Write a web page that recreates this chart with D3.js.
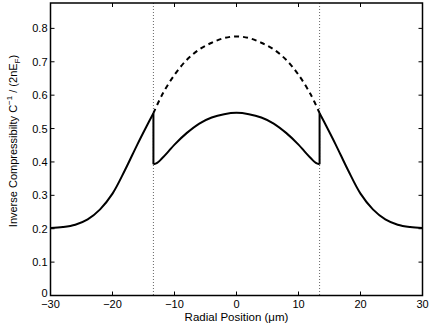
<!DOCTYPE html>
<html><head><meta charset="utf-8">
<script src="https://cdn.jsdelivr.net/npm/d3@7"></script>
<style>body{margin:0;background:#fff}svg{display:block}text{font-family:"Liberation Sans",Arial,sans-serif}</style>
</head><body><svg id="c" width="432" height="327"></svg>
<script>
// Outer solid branch (left, right)
const outerLeftX = [-30, -28, -26, -24, -22, -20, -18, -16, -14.5, -13.4];
const outerLeftY = [0.202, 0.205, 0.212, 0.228, 0.258, 0.305, 0.375, 0.452, 0.507, 0.546];
const outerRightX = [13.4, 14.5, 16, 18, 20, 22, 24, 26, 28, 30];
const outerRightY = [0.546, 0.507, 0.452, 0.375, 0.305, 0.258, 0.228, 0.212, 0.205, 0.202];
// Inner solid branch
const innerX = [-13.4, -13.4, -12.8, -12, -11, -10, -8, -6, -4, -2, 0, 2, 4, 6, 8, 10, 11, 12, 12.8, 13.4, 13.4];
const innerY = [0.546, 0.393, 0.397, 0.411, 0.431, 0.452, 0.487, 0.515, 0.533, 0.543, 0.547, 0.543, 0.533, 0.515, 0.487, 0.452, 0.431, 0.411, 0.397, 0.393, 0.546];
// Dashed branch
const dashX = [-13.4, -12, -10, -8, -6, -4, -2, 0, 2, 4, 6, 8, 10, 12, 13.4];
const dashY = [0.546, 0.601, 0.661, 0.706, 0.737, 0.757, 0.771, 0.776, 0.771, 0.757, 0.737, 0.706, 0.661, 0.601, 0.546];
const boundaries = [-13.4, 13.4];
const xTicks = [-30, -20, -10, 0, 10, 20, 30];
const yTicks = [0, 0.1, 0.2, 0.3, 0.4, 0.5, 0.6, 0.7, 0.8];

const svg = d3.select("#c");
const L = 50.5, R = 422.5, T = 3, B = 295.5;
const x = d3.scaleLinear().domain([-30, 30]).range([L, R]);
const y = d3.scaleLinear().domain([0, 0.876]).range([B, T]);

svg.append("defs").append("clipPath").attr("id","cp").append("rect")
  .attr("x", L).attr("y", T).attr("width", R-L).attr("height", B-T);

const g = svg.append("g").attr("clip-path","url(#cp)");
boundaries.forEach(b => {
  g.append("line").attr("x1", x(b)).attr("x2", x(b)).attr("y1", T).attr("y2", B)
   .attr("stroke", "#666").attr("stroke-width", 1).attr("stroke-dasharray", "1,2");
});
const smooth = (xs, ys) => d3.line().x((d,i)=>x(xs[i])).y((d,i)=>y(ys[i])).curve(d3.curveCatmullRom.alpha(0.5))(xs);
const lineLin = (xs, ys, a, b) => d3.line().x(i=>x(xs[i])).y(i=>y(ys[i]))(d3.range(a,b));
const solid = p => p.attr("fill","none").attr("stroke","#000").attr("stroke-width",2).attr("stroke-linejoin","round");
solid(g.append("path").attr("d", smooth(outerLeftX, outerLeftY)));
solid(g.append("path").attr("d", smooth(outerRightX, outerRightY)));
solid(g.append("path").attr("d", lineLin(innerX, innerY, 0, 2)));
solid(g.append("path").attr("d", lineLin(innerX, innerY, innerX.length-2, innerX.length)));
const midX = innerX.slice(1, innerX.length-1), midY = innerY.slice(1, innerY.length-1);
solid(g.append("path").attr("d", smooth(midX, midY)));
solid(g.append("path").attr("d", smooth(dashX, dashY))).attr("stroke-dasharray","5,4");

// axes
const tk = 4;
const ax = svg.append("g").attr("stroke","#000").attr("stroke-width",1);
xTicks.forEach(v => {
  ax.append("line").attr("x1",x(v)).attr("x2",x(v)).attr("y1",B).attr("y2",B-tk);
  ax.append("line").attr("x1",x(v)).attr("x2",x(v)).attr("y1",T).attr("y2",T+tk);
});
yTicks.forEach(v => {
  ax.append("line").attr("x1",L).attr("x2",L+tk).attr("y1",y(v)).attr("y2",y(v));
  ax.append("line").attr("x1",R).attr("x2",R-tk).attr("y1",y(v)).attr("y2",y(v));
});
svg.append("rect").attr("x",L).attr("y",T).attr("width",R-L).attr("height",B-T)
  .attr("fill","none").attr("stroke","#000").attr("stroke-width",1.5);

const fmtX = v => v < 0 ? "\u2212" + Math.abs(v) : String(v);
svg.append("g").selectAll("text").data(xTicks).join("text")
  .attr("x", d=>x(d)).attr("y", B+12).attr("text-anchor","middle").attr("font-size",11).text(fmtX);
svg.append("g").selectAll("text").data(yTicks).join("text")
  .attr("x", L-3).attr("y", d=> d===0 ? y(d)+1 : y(d)+4).attr("text-anchor","end").attr("font-size",11)
  .text(d => d===0 ? "0" : d3.format(".1f")(d));

svg.append("text").attr("x",(L+R)/2).attr("y",321).attr("text-anchor","middle").attr("font-size",11.5)
  .text("Radial Position (\u03bcm)");
const yl = svg.append("text").attr("transform","translate(17,141) rotate(-90)").attr("text-anchor","middle").attr("font-size",11);
yl.append("tspan").text("Inverse Compressibilty C");
yl.append("tspan").attr("font-size",8).attr("dy",-5).text("\u22121");
yl.append("tspan").attr("dy",5).text(" / (2nE");
yl.append("tspan").attr("font-size",8).attr("dy",3).text("F");
yl.append("tspan").attr("dy",-3).text(")");
</script></body></html>
